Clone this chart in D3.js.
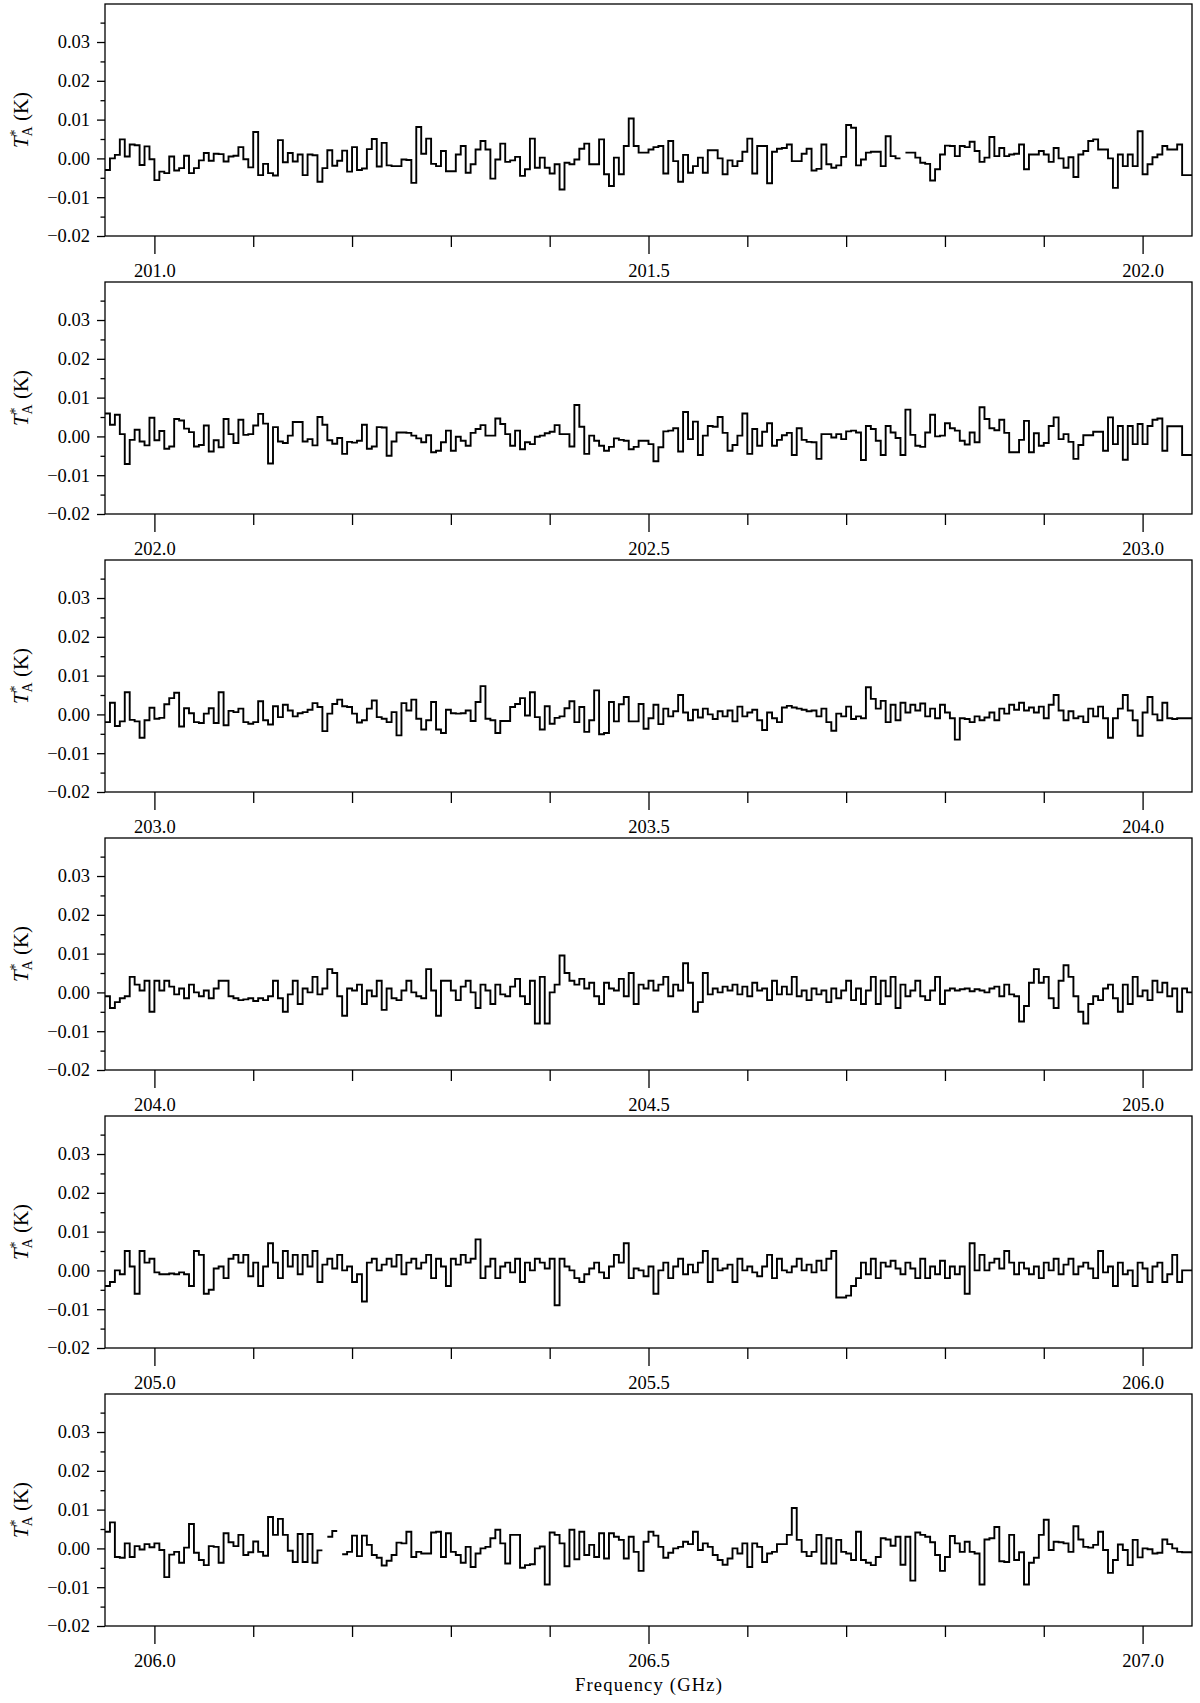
<!DOCTYPE html>
<html><head><meta charset="utf-8">
<script src="https://cdn.jsdelivr.net/npm/d3@7"></script>
<style>
html,body{margin:0;padding:0;background:#fff;}
svg{display:block;}
text{font-family:"Liberation Serif","DejaVu Serif",serif;fill:#000;}
</style></head><body>
<svg id="chart" width="1200" height="1703"></svg>
<script>
// ---- data ----
const panelStartsGHz = [201.0, 202.0, 203.0, 204.0, 205.0, 206.0];
const channelWidthGHz = 0.005;
const xMajorTickStep = 0.5;
const xMinorTickStep = 0.1;
const yMajorTicks = [-0.02, -0.01, 0.00, 0.01, 0.02, 0.03];
const yMinorTicks = [-0.015, -0.005, 0.005, 0.015, 0.025, 0.035];
const yAxisTitle = "T*A (K)";
const xAxisTitle = "Frequency (GHz)";

const panel1 = [
-0.0030,0.0000,0.0009,0.0049,0.0005,0.0036,0.0034,-0.0017,0.0031,-0.0002,
-0.0056,-0.0034,-0.0038,0.0005,-0.0031,-0.0025,0.0007,-0.0038,-0.0025,-0.0005,
0.0014,-0.0006,0.0012,0.0011,-0.0008,0.0005,0.0007,0.0029,-0.0002,-0.0023,
0.0068,-0.0043,-0.0014,-0.0038,-0.0044,0.0047,-0.0010,0.0014,-0.0008,0.0010,
-0.0043,0.0010,0.0008,-0.0060,-0.0025,0.0021,-0.0019,-0.0006,0.0020,-0.0034,
0.0029,-0.0030,-0.0026,0.0024,0.0050,-0.0021,0.0040,-0.0018,-0.0020,-0.0020,
-0.0003,-0.0004,-0.0063,0.0081,0.0012,0.0051,-0.0014,-0.0020,0.0019,-0.0033,
-0.0033,0.0010,0.0032,-0.0037,-0.0015,0.0023,0.0045,0.0023,-0.0052,-0.0003,
0.0038,-0.0009,-0.0005,0.0004,-0.0045,-0.0028,0.0051,-0.0024,0.0002,-0.0024,
-0.0039,-0.0015,-0.0080,-0.0011,-0.0015,-0.0003,0.0025,0.0038,-0.0015,-0.0015,
0.0049,-0.0041,-0.0071,0.0002,-0.0041,0.0032,0.0103,0.0032,0.0015,0.0015,
0.0023,0.0029,0.0032,-0.0039,0.0045,-0.0007,-0.0060,0.0009,-0.0037,-0.0020,
0.0002,-0.0037,0.0021,0.0021,0.0000,-0.0041,-0.0005,-0.0020,-0.0007,0.0017,
0.0051,-0.0039,0.0032,0.0032,-0.0064,0.0017,0.0025,0.0027,0.0036,-0.0007,
-0.0007,0.0012,0.0025,-0.0031,-0.0027,0.0036,-0.0015,-0.0024,-0.0018,0.0004,
0.0086,0.0079,-0.0018,-0.0003,0.0015,0.0017,0.0017,-0.0020,0.0057,0.0006,
0.0000,null,0.0015,0.0015,0.0002,-0.0011,-0.0014,-0.0057,-0.0028,0.0010,
0.0033,0.0032,0.0006,0.0032,0.0029,0.0043,0.0019,-0.0009,0.0002,0.0055,
0.0006,0.0027,0.0006,0.0010,0.0012,0.0036,-0.0028,0.0010,0.0010,0.0019,
0.0010,-0.0009,0.0027,0.0000,-0.0024,0.0003,-0.0048,0.0010,0.0019,0.0045,
0.0049,0.0023,0.0023,0.0000,-0.0076,0.0010,-0.0020,0.0010,-0.0020,0.0070,
-0.0041,-0.0015,0.0003,0.0010,0.0032,0.0023,0.0023,0.0036,-0.0043,-0.0043
];
const panel2 = [
0.0059,0.0030,0.0056,0.0006,-0.0071,-0.0009,0.0017,-0.0013,-0.0023,0.0048,
-0.0010,0.0014,-0.0032,-0.0026,0.0045,0.0041,0.0020,0.0011,-0.0026,-0.0022,
0.0028,-0.0039,-0.0010,-0.0028,0.0045,0.0006,-0.0017,0.0043,0.0004,0.0006,
0.0028,0.0058,0.0033,-0.0070,0.0024,-0.0013,-0.0017,0.0002,0.0037,0.0037,
-0.0013,-0.0007,-0.0023,0.0050,0.0030,-0.0010,-0.0019,-0.0004,-0.0045,-0.0014,
-0.0016,-0.0011,0.0030,-0.0032,-0.0026,0.0024,0.0023,-0.0050,-0.0013,
0.0010,0.0010,0.0009,0.0002,-0.0005,-0.0015,0.0003,-0.0041,-0.0037,-0.0015,
0.0015,-0.0037,-0.0001,-0.0011,-0.0024,0.0009,0.0019,0.0029,0.0002,0.0002,
0.0046,0.0032,0.0006,-0.0024,0.0015,-0.0033,-0.0015,-0.0020,-0.0001,0.0002,
0.0008,0.0012,0.0029,0.0006,0.0006,-0.0026,0.0081,0.0025,-0.0045,0.0002,
-0.0011,-0.0024,-0.0037,-0.0027,-0.0005,-0.0009,-0.0011,-0.0033,-0.0027,-0.0011,-0.0011,
-0.0020,-0.0064,-0.0028,0.0013,0.0015,0.0021,-0.0039,0.0063,-0.0007,0.0038,
-0.0048,0.0002,0.0027,0.0025,0.0050,0.0009,-0.0037,-0.0022,0.0002,0.0059,
-0.0045,0.0019,-0.0024,0.0012,0.0034,-0.0024,-0.0009,0.0003,0.0009,-0.0048,
0.0021,-0.0009,-0.0014,-0.0015,-0.0058,0.0006,0.0006,-0.0003,0.0006,-0.0007,
0.0013,0.0015,0.0010,-0.0061,0.0027,0.0019,-0.0011,-0.0048,0.0027,0.0010,
-0.0004,-0.0048,0.0069,0.0004,-0.0024,-0.0027,0.0010,0.0056,0.0000,0.0002,
0.0034,0.0021,0.0015,-0.0011,-0.0021,0.0010,-0.0015,0.0075,0.0045,0.0021,
0.0016,0.0043,0.0009,-0.0041,-0.0041,-0.0009,0.0040,-0.0041,0.0008,-0.0024,
-0.0017,0.0027,0.0049,-0.0007,0.0006,-0.0014,-0.0058,-0.0022,0.0003,0.0003,
0.0012,0.0012,-0.0037,0.0049,-0.0020,0.0027,-0.0060,0.0027,-0.0020,0.0032,
-0.0020,0.0027,0.0043,0.0046,-0.0037,0.0026,0.0026,0.0026,-0.0048,-0.0048
];
const panel3 = [
-0.0020,0.0030,-0.0030,-0.0018,0.0057,-0.0014,-0.0018,-0.0060,-0.0015,0.0017,
-0.0011,-0.0009,0.0026,0.0042,0.0056,-0.0031,0.0016,0.0003,-0.0020,-0.0022,
0.0002,0.0016,-0.0022,0.0057,-0.0028,0.0009,0.0006,0.0015,-0.0020,-0.0024,
-0.0020,0.0034,-0.0015,-0.0026,0.0021,-0.0007,0.0025,0.0010,-0.0005,0.0003,
0.0006,0.0012,0.0029,0.0019,-0.0043,0.0002,0.0027,0.0038,0.0021,0.0019,
0.0002,-0.0021,-0.0015,0.0015,0.0036,-0.0007,-0.0011,-0.0020,0.0006,-0.0054,
0.0029,0.0010,0.0038,-0.0011,-0.0039,-0.0015,0.0032,-0.0039,-0.0048,0.0012,
0.0003,0.0002,0.0003,0.0010,-0.0017,0.0032,0.0073,-0.0011,-0.0015,-0.0048,
-0.0017,-0.0017,0.0019,0.0027,0.0042,-0.0003,0.0057,-0.0007,-0.0039,0.0021,
-0.0024,-0.0009,-0.0005,0.0016,0.0034,-0.0020,0.0019,-0.0045,-0.0015,0.0062,
-0.0051,-0.0048,0.0032,-0.0018,0.0026,0.0045,-0.0018,-0.0018,0.0027,-0.0037,
-0.0010,0.0025,-0.0025,0.0015,-0.0005,0.0008,0.0050,0.0005,-0.0015,0.0012,
-0.0008,0.0015,0.0000,-0.0012,0.0008,-0.0005,0.0010,-0.0018,0.0020,-0.0005,
0.0005,0.0012,-0.0015,-0.0040,0.0005,-0.0010,-0.0020,0.0018,0.0022,0.0018,
0.0015,0.0012,0.0008,0.0010,-0.0005,0.0015,-0.0020,-0.0042,0.0002,-0.0005,
0.0020,-0.0012,-0.0005,-0.0010,0.0070,0.0040,0.0015,0.0035,-0.0020,0.0025,
-0.0015,0.0030,0.0005,0.0025,0.0010,0.0028,-0.0005,0.0015,-0.0010,0.0025,
0.0005,-0.0010,-0.0065,-0.0010,-0.0012,-0.0020,-0.0005,-0.0015,-0.0008,0.0005,
-0.0015,0.0015,0.0002,0.0025,0.0012,0.0030,0.0010,0.0018,0.0005,0.0020,
-0.0010,0.0025,0.0050,0.0010,-0.0015,0.0008,-0.0010,-0.0005,-0.0020,0.0015,
-0.0005,0.0020,-0.0010,-0.0060,-0.0010,0.0015,0.0050,0.0010,-0.0015,-0.0055,
0.0005,0.0045,0.0000,-0.0015,0.0030,-0.0010,-0.0012,-0.0010,-0.0010,-0.0010
];
const panel4 = [
-0.0010,-0.0040,-0.0025,-0.0015,-0.0010,0.0040,0.0020,0.0005,0.0030,-0.0050,
0.0030,0.0005,0.0030,0.0015,-0.0005,0.0010,-0.0015,0.0020,0.0000,-0.0010,
0.0005,-0.0015,0.0010,0.0030,0.0030,-0.0010,-0.0015,-0.0020,-0.0018,-0.0015,
-0.0022,-0.0015,-0.0020,-0.0010,0.0030,-0.0015,-0.0050,-0.0005,0.0030,-0.0030,
0.0010,0.0000,0.0040,-0.0005,0.0010,0.0060,0.0050,-0.0010,-0.0060,0.0010,
0.0005,0.0020,-0.0030,0.0005,-0.0010,0.0030,-0.0045,0.0010,-0.0015,-0.0020,
0.0005,0.0030,0.0000,-0.0010,-0.0015,0.0060,0.0005,-0.0060,0.0030,0.0030,
0.0005,-0.0020,0.0015,0.0030,0.0000,-0.0040,0.0020,0.0005,-0.0030,0.0020,
-0.0005,-0.0010,0.0015,0.0035,-0.0010,-0.0030,0.0030,-0.0080,0.0040,-0.0080,
0.0000,0.0020,0.0095,0.0050,0.0030,0.0020,0.0035,0.0010,0.0025,-0.0010,
-0.0030,0.0025,0.0010,0.0005,0.0035,-0.0010,0.0050,-0.0030,0.0020,0.0010,
0.0030,0.0005,0.0020,0.0040,-0.0010,0.0020,0.0005,0.0075,0.0025,-0.0050,
-0.0025,0.0050,-0.0005,0.0010,0.0000,0.0015,0.0005,0.0020,-0.0005,0.0015,
-0.0010,0.0025,0.0005,0.0010,-0.0020,0.0030,-0.0005,0.0015,-0.0005,0.0040,
-0.0010,0.0005,-0.0020,0.0010,-0.0005,0.0005,-0.0025,0.0010,-0.0015,0.0005,
0.0030,-0.0020,0.0010,-0.0030,0.0005,0.0040,-0.0030,0.0030,-0.0010,0.0040,
-0.0040,0.0020,-0.0010,0.0005,0.0030,-0.0010,-0.0020,0.0005,0.0040,-0.0030,
0.0005,0.0010,0.0005,0.0008,0.0010,0.0003,0.0008,0.0005,0.0000,0.0010,
0.0015,-0.0010,0.0020,-0.0005,-0.0010,-0.0075,-0.0035,0.0025,0.0060,0.0025,
0.0040,-0.0015,-0.0040,0.0030,0.0070,0.0040,-0.0010,-0.0050,-0.0080,-0.0030,
-0.0010,-0.0020,0.0010,0.0020,-0.0015,-0.0050,0.0020,-0.0030,0.0040,-0.0010,
0.0005,-0.0020,0.0030,0.0000,0.0025,-0.0010,0.0010,-0.0050,0.0010,0.0000
];
const panel5 = [
-0.0040,-0.0030,0.0000,-0.0010,0.0050,0.0010,-0.0060,0.0050,0.0020,0.0030,
-0.0005,-0.0010,-0.0010,-0.0008,-0.0010,-0.0005,-0.0010,-0.0040,0.0050,0.0040,
-0.0060,-0.0050,0.0005,0.0010,-0.0020,0.0030,0.0040,0.0020,0.0040,-0.0015,
0.0020,-0.0040,0.0010,0.0070,0.0020,-0.0020,0.0050,0.0010,0.0040,-0.0010,
0.0040,0.0010,0.0050,-0.0030,0.0015,0.0030,0.0005,0.0040,0.0000,0.0010,
-0.0030,-0.0010,-0.0080,0.0020,0.0030,0.0000,0.0015,0.0030,0.0010,0.0040,
-0.0010,0.0020,0.0030,0.0005,0.0020,0.0040,-0.0020,0.0030,0.0010,-0.0040,
0.0030,0.0015,0.0040,0.0020,0.0030,0.0080,-0.0020,0.0010,0.0030,-0.0020,
0.0010,0.0020,-0.0005,0.0030,-0.0030,0.0020,0.0000,0.0030,0.0020,0.0005,
0.0030,-0.0090,0.0030,0.0010,0.0000,-0.0020,-0.0030,-0.0010,0.0005,0.0020,
-0.0005,-0.0020,0.0010,0.0040,0.0020,0.0070,-0.0020,0.0005,0.0000,-0.0015,
0.0010,-0.0060,0.0000,0.0020,-0.0020,0.0010,0.0030,-0.0010,0.0015,-0.0005,
0.0020,0.0050,-0.0030,0.0030,0.0000,0.0005,0.0015,-0.0030,0.0030,0.0000,
0.0010,-0.0005,-0.0015,0.0010,0.0040,-0.0020,0.0030,0.0000,-0.0005,0.0010,
0.0030,0.0000,0.0015,-0.0005,0.0025,0.0000,0.0030,0.0050,-0.0070,-0.0070,
-0.0065,-0.0040,-0.0020,0.0020,-0.0010,0.0030,-0.0020,0.0020,0.0010,0.0025,
0.0005,-0.0010,0.0020,0.0005,-0.0020,0.0030,-0.0020,0.0010,-0.0010,0.0025,
-0.0020,0.0010,-0.0010,0.0010,-0.0060,0.0070,0.0000,0.0040,0.0000,0.0020,
0.0030,0.0005,0.0050,0.0020,-0.0010,0.0020,0.0005,-0.0010,0.0010,-0.0020,
0.0020,0.0000,0.0030,-0.0010,0.0015,0.0030,-0.0010,0.0010,0.0020,0.0005,
-0.0020,0.0050,-0.0005,0.0010,-0.0040,0.0020,-0.0010,0.0000,-0.0040,0.0020,
0.0005,-0.0030,0.0010,0.0020,-0.0030,-0.0010,0.0040,-0.0030,0.0000,0.0000
];
const panel6 = [
0.0043,0.0067,-0.0022,-0.0024,0.0013,-0.0022,0.0006,-0.0003,0.0011,0.0003,
0.0013,-0.0004,-0.0074,-0.0016,-0.0009,-0.0037,0.0002,0.0063,-0.0011,-0.0030,
-0.0043,0.0006,0.0004,-0.0037,0.0039,0.0016,0.0006,0.0035,-0.0017,-0.0010,
0.0018,-0.0009,-0.0019,0.0081,0.0035,0.0076,0.0035,-0.0006,-0.0035,0.0037,
-0.0035,0.0037,-0.0037,-0.0005,null,0.0030,0.0045,null,-0.0015,-0.0009,
0.0033,-0.0020,0.0033,0.0009,-0.0017,-0.0024,-0.0044,-0.0032,-0.0017,0.0015,
0.0013,0.0043,-0.0022,-0.0009,-0.0013,-0.0013,0.0041,0.0043,-0.0022,0.0039,
-0.0009,-0.0017,-0.0037,0.0004,-0.0048,-0.0013,0.0000,0.0004,0.0026,0.0048,
0.0013,-0.0039,0.0035,0.0035,-0.0050,-0.0043,-0.0041,0.0000,0.0005,-0.0093,
0.0041,0.0035,0.0013,-0.0046,0.0048,-0.0028,0.0043,-0.0017,0.0009,-0.0022,
0.0039,-0.0026,0.0039,0.0030,0.0022,-0.0026,0.0030,-0.0009,-0.0058,0.0017,
0.0043,0.0033,0.0004,-0.0024,-0.0011,0.0000,0.0004,0.0017,0.0011,0.0043,
-0.0004,0.0013,0.0004,-0.0017,-0.0030,-0.0042,-0.0026,0.0000,-0.0013,0.0013,
-0.0048,0.0013,0.0004,-0.0035,-0.0013,-0.0009,0.0011,0.0011,0.0035,0.0104,
0.0022,-0.0009,-0.0020,-0.0009,0.0035,-0.0039,0.0026,-0.0039,0.0022,-0.0009,
-0.0013,-0.0030,0.0043,-0.0030,-0.0037,-0.0043,-0.0022,0.0026,0.0023,0.0007,
0.0030,-0.0042,0.0030,-0.0083,0.0041,0.0035,0.0030,0.0016,-0.0017,-0.0058,
-0.0022,0.0032,0.0013,-0.0009,0.0017,-0.0009,-0.0013,-0.0093,0.0023,0.0026,
0.0055,-0.0033,-0.0035,0.0035,-0.0030,-0.0010,-0.0093,-0.0037,-0.0024,0.0035,
0.0074,-0.0004,0.0017,0.0016,0.0013,-0.0009,0.0057,0.0023,0.0004,0.0002,
0.0009,0.0043,-0.0004,-0.0063,-0.0030,0.0010,-0.0004,-0.0043,0.0022,-0.0023,
0.0000,-0.0002,-0.0013,-0.0011,0.0023,0.0011,0.0000,-0.0009,-0.0010,-0.0010
];
const panelValues = [panel1, panel2, panel3, panel4, panel5, panel6];

// ---- layout ----
const plotLeft = 105, plotRight = 1192;
const panelTop0 = 4, panelPitch = 278, panelHeight = 232;
const yDomain = [-0.02, 0.0398];

const svg = d3.select("#chart");
const fmtX = d3.format(".1f");
const fmtY = d3.format(".2f");

panelValues.forEach((vals, p) => {
  const start = panelStartsGHz[p];
  const x0 = start - 0.05, x1 = start + 1.05;
  const top = panelTop0 + p * panelPitch;
  const x = d3.scaleLinear().domain([x0, x1]).range([plotLeft, plotRight]);
  const y = d3.scaleLinear().domain(yDomain).range([top + panelHeight, top]);
  const g = svg.append("g");

  const clipId = "clip" + p;
  svg.append("clipPath").attr("id", clipId).append("rect")
    .attr("x", plotLeft).attr("y", top).attr("width", plotRight - plotLeft).attr("height", panelHeight);

  // step line, broken at missing channels
  const runs = []; let cur = [];
  vals.forEach((v, i) => { if (v == null) { if (cur.length) runs.push(cur); cur = []; } else cur.push(i); });
  if (cur.length) runs.push(cur);
  const line = d3.line().x(d => x(d[0])).y(d => y(d[1])).curve(d3.curveStepAfter);
  runs.forEach(run => {
    const pts = run.map(i => [x0 + i * channelWidthGHz, vals[i]]);
    const last = run[run.length - 1];
    pts.push([x0 + (last + 1) * channelWidthGHz, vals[last]]);
    g.append("path").attr("d", line(pts)).attr("fill", "none")
      .attr("stroke", "#000").attr("stroke-width", 1.9)
      .attr("stroke-linejoin", "miter").attr("clip-path", `url(#${clipId})`);
  });

  // frame
  g.append("rect").attr("x", plotLeft).attr("y", top)
    .attr("width", plotRight - plotLeft).attr("height", panelHeight)
    .attr("fill", "none").attr("stroke", "#000").attr("stroke-width", 1.3);

  // x axis
  const majors = d3.range(0, 3).map(k => +(start + k * xMajorTickStep).toFixed(2));
  const minors = d3.range(0, 11).map(k => +(start + k * xMinorTickStep).toFixed(2)).filter(v => !majors.includes(v));
  const xMinor = g.append("g").attr("transform", `translate(0,${top + panelHeight})`)
    .call(d3.axisBottom(x).tickValues(minors).tickSize(11).tickFormat(""));
  const xMajor = g.append("g").attr("transform", `translate(0,${top + panelHeight})`)
    .call(d3.axisBottom(x).tickValues(majors).tickSize(18).tickPadding(10).tickFormat(fmtX));

  // y axis
  const yMinor = g.append("g").attr("transform", `translate(${plotLeft},0)`)
    .call(d3.axisLeft(y).tickValues(yMinorTicks).tickSize(4.5).tickFormat(""));
  const yMajor = g.append("g").attr("transform", `translate(${plotLeft},0)`)
    .call(d3.axisLeft(y).tickValues(yMajorTicks).tickSize(8).tickPadding(7).tickFormat(fmtY));

  [xMinor, xMajor, yMinor, yMajor].forEach(a => {
    a.select(".domain").remove();
    a.selectAll(".tick line").attr("stroke", "#000").attr("stroke-width", 1.3);
    a.selectAll(".tick text").attr("font-family", '"Liberation Serif", serif')
      .attr("font-size", 18.5).attr("fill", "#000");
  });

  // y title
  const t = g.append("text")
    .attr("transform", `translate(28,${top + panelHeight / 2}) rotate(-90)`)
    .attr("text-anchor", "middle").attr("font-size", 21);
  t.append("tspan").attr("font-style", "italic").text(yAxisTitle.charAt(0));
  t.append("tspan").attr("dy", -8).attr("font-size", 14).text(yAxisTitle.charAt(1));
  t.append("tspan").attr("dx", -7).attr("dy", 12).attr("font-size", 14).text(yAxisTitle.charAt(2));
  t.append("tspan").attr("dy", -4).text(yAxisTitle.slice(3));
});

svg.append("text").attr("x", (plotLeft + plotRight) / 2).attr("y", 1691)
  .attr("text-anchor", "middle").attr("font-size", 18.6)
  .attr("textLength", 147).attr("lengthAdjust", "spacing")
  .text(xAxisTitle);
</script>
</body></html>
